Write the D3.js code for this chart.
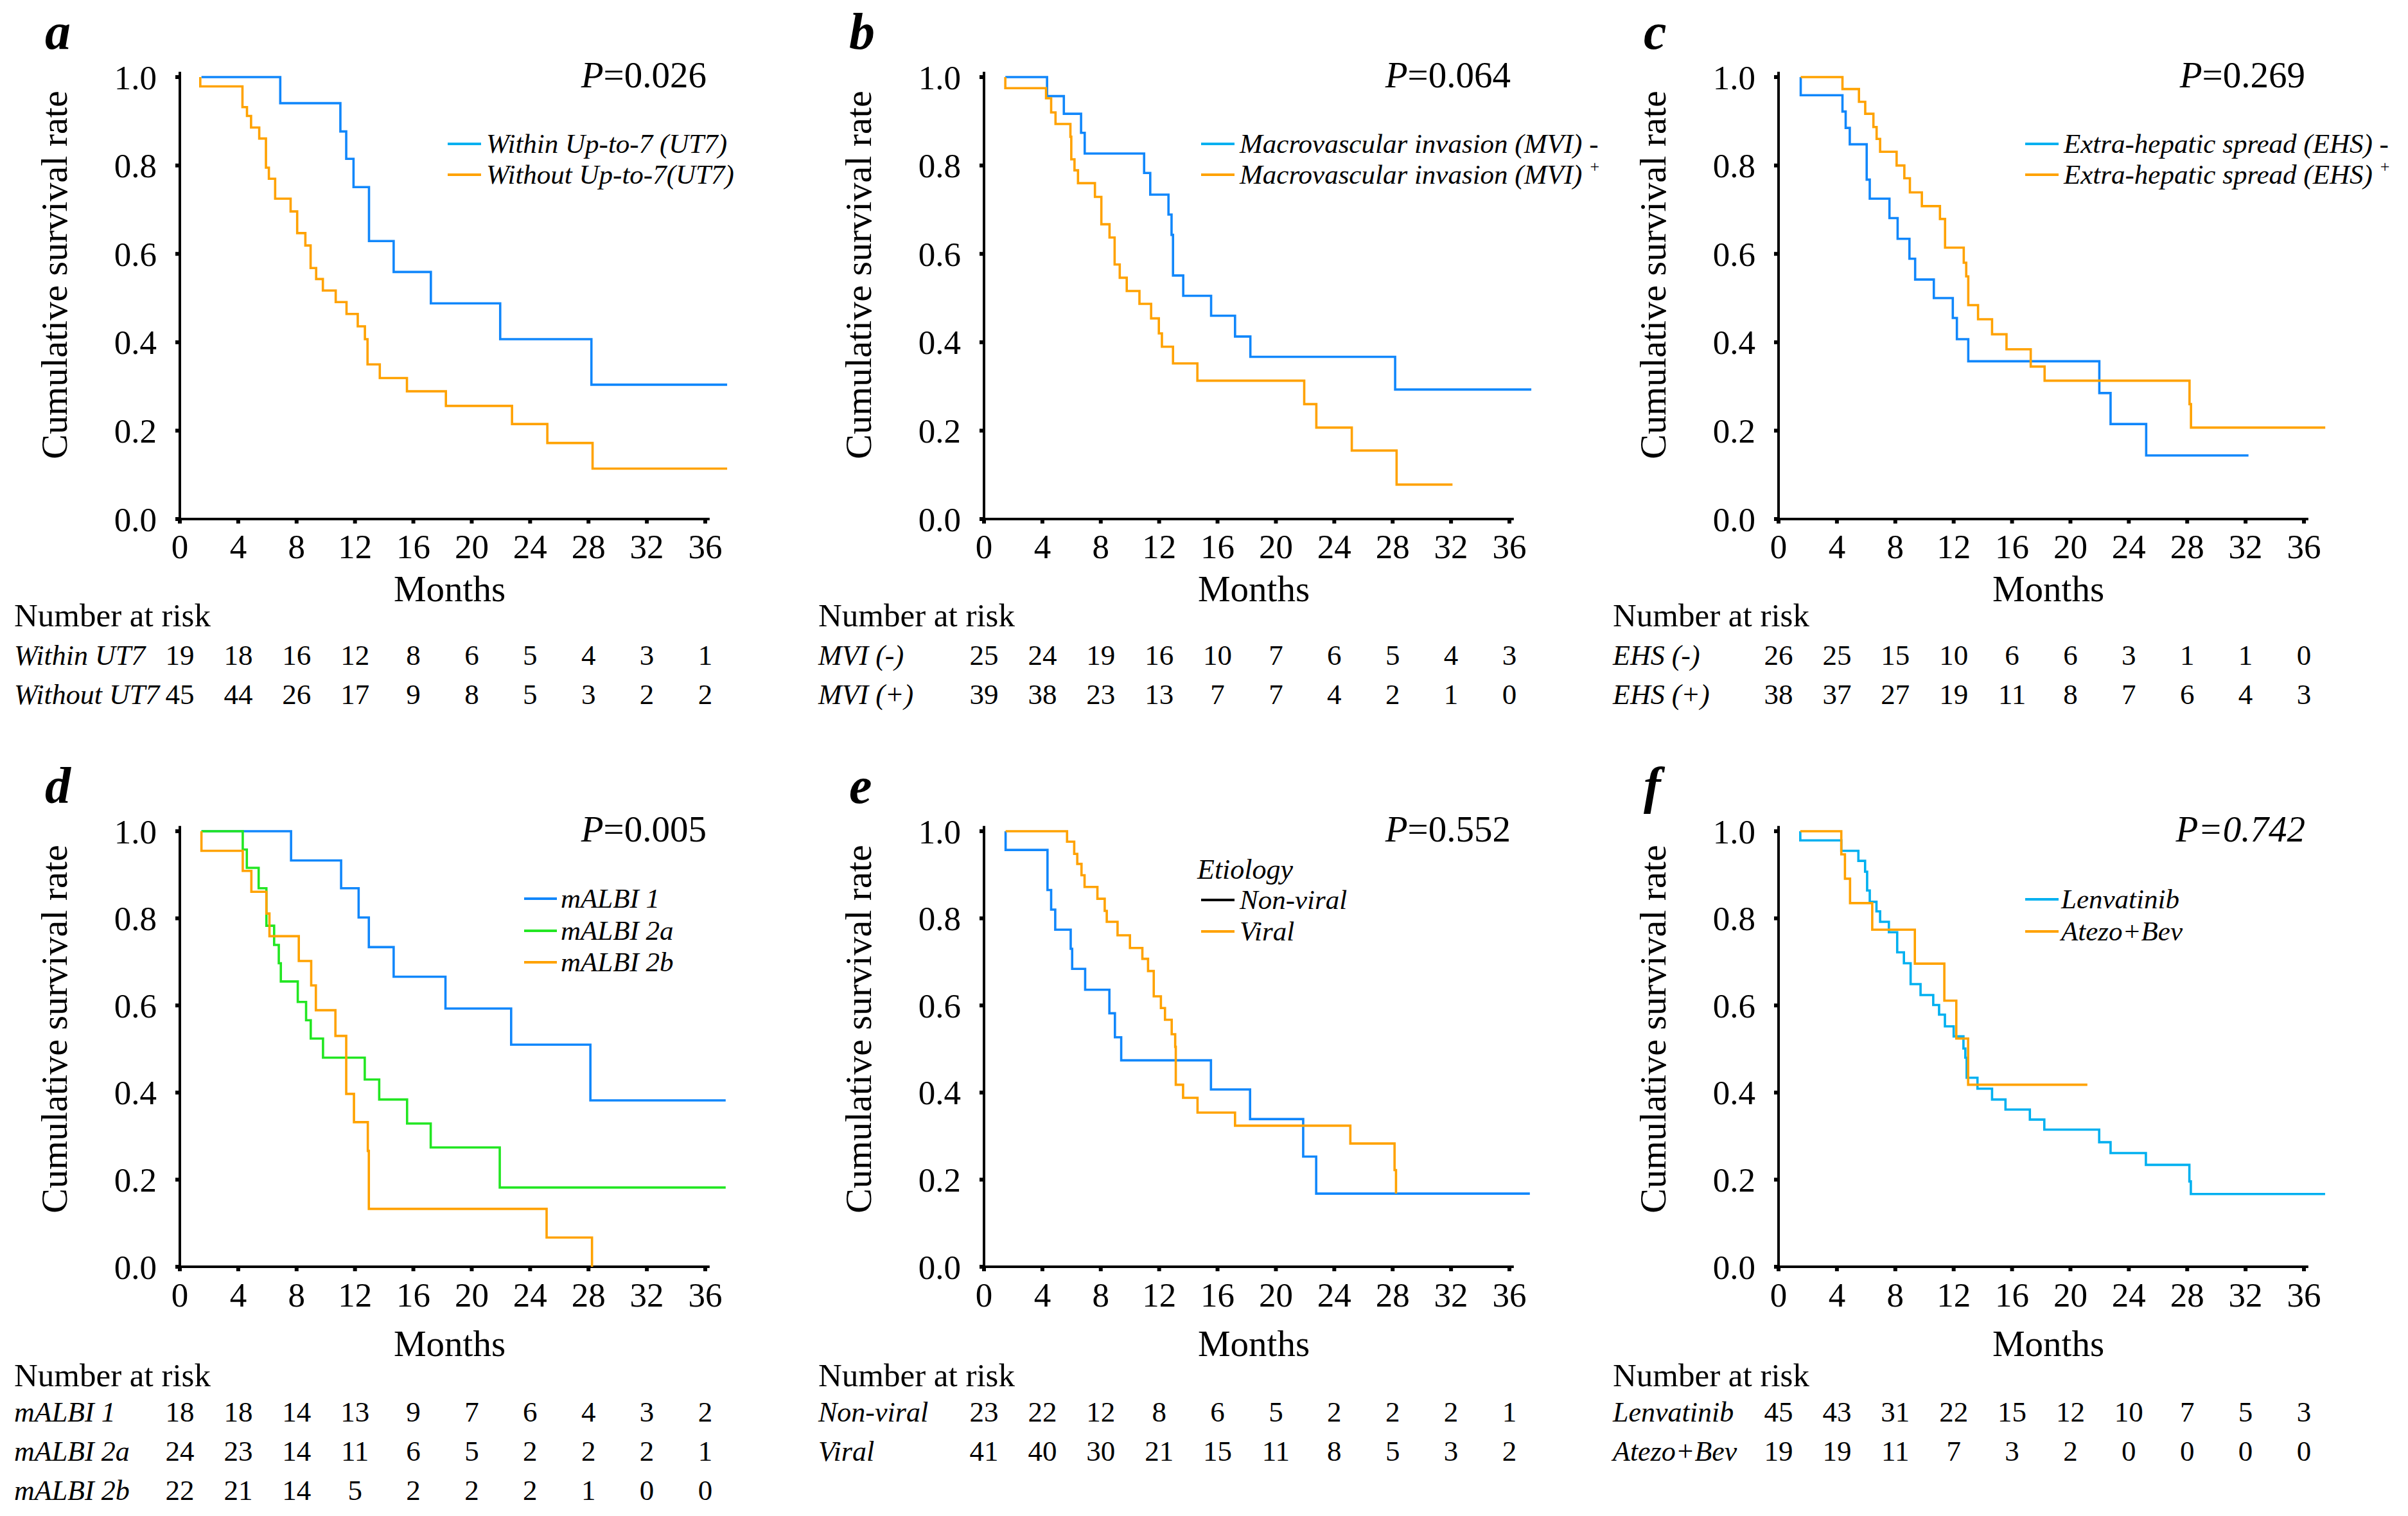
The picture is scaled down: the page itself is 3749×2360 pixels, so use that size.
<!DOCTYPE html>
<html><head><meta charset="utf-8">
<script src="https://cdn.jsdelivr.net/npm/d3@7/dist/d3.min.js"></script>
<style>
body{margin:0;background:#fff}
svg{display:block;background:#fff}
text{font-family:"Liberation Serif","Times New Roman",serif;fill:#000}
</style>
</head><body>
<svg id="chart" width="3749" height="2360"></svg>
<script>
// ---------- axis ticks ----------
const monthTicks = [0, 4, 8, 12, 16, 20, 24, 28, 32, 36];
const survTicks = [0, 0.2, 0.4, 0.6, 0.8, 1.0];
const survTickLabels = ["0.0", "0.2", "0.4", "0.6", "0.8", "1.0"];

// ---------- survival curves: [month, survival] ----------
// a: Up-to-7
const utWithin = [[1.48,1],[6.88,0.941],[11.0,0.877],[11.4,0.815],[11.9,0.751],[12.96,0.629],[14.65,0.559],[17.2,0.488],[21.95,0.407],[28.2,0.304],[37.5,0.304]];
const utWithout = [[1.4,1],[1.4,0.979],[4.29,0.932],[4.6,0.912],[4.88,0.886],[5.44,0.861],[5.9,0.795],[6.1,0.770],[6.53,0.725],[7.59,0.696],[8.04,0.647],[8.6,0.619],[8.96,0.568],[9.34,0.543],[9.8,0.517],[10.68,0.491],[11.42,0.464],[12.19,0.436],[12.68,0.407],[12.86,0.350],[13.7,0.319],[15.56,0.289],[18.23,0.256],[22.76,0.215],[25.18,0.172],[28.28,0.114],[37.5,0.114]];
// b: MVI
const mviNeg = [[1.46,1],[4.32,0.957],[5.47,0.917],[6.65,0.874],[6.9,0.827],[10.97,0.783],[11.39,0.734],[12.64,0.689],[12.85,0.643],[12.95,0.551],[13.65,0.505],[15.56,0.460],[17.2,0.413],[18.25,0.367],[28.17,0.293],[37.5,0.293]];
const mviPos = [[1.46,1],[1.46,0.975],[4.25,0.952],[4.6,0.920],[4.9,0.894],[5.92,0.865],[5.98,0.814],[6.2,0.789],[6.44,0.760],[7.6,0.729],[8.04,0.667],[8.6,0.637],[8.95,0.576],[9.3,0.546],[9.78,0.516],[10.65,0.487],[11.45,0.454],[11.98,0.420],[12.19,0.390],[12.95,0.352],[14.62,0.313],[21.94,0.260],[22.77,0.207],[25.2,0.155],[28.27,0.078],[32.1,0.078]];
// c: EHS
const ehsNeg = [[1.52,1],[1.52,0.959],[4.38,0.922],[4.6,0.885],[4.88,0.848],[6.04,0.768],[6.25,0.725],[7.6,0.681],[8.16,0.634],[8.97,0.589],[9.36,0.542],[10.64,0.500],[11.94,0.455],[12.22,0.407],[13.0,0.357],[21.98,0.285],[22.75,0.215],[25.19,0.144],[32.2,0.144]];
const ehsPos = [[1.52,1],[4.38,0.973],[5.51,0.944],[5.94,0.917],[6.5,0.887],[6.72,0.860],[6.96,0.831],[8.09,0.800],[8.62,0.771],[9.0,0.739],[9.82,0.708],[11.06,0.679],[11.41,0.614],[12.69,0.580],[12.86,0.549],[13.0,0.484],[13.67,0.452],[14.63,0.418],[15.62,0.384],[17.28,0.345],[18.23,0.313],[28.16,0.260],[28.26,0.207],[37.46,0.207]];
// d: mALBI
const albi1 = [[1.48,1],[7.62,0.933],[11.05,0.869],[12.25,0.802],[12.95,0.734],[14.65,0.666],[18.2,0.593],[22.7,0.510],[28.13,0.382],[37.4,0.382]];
const albi2a = [[1.48,1],[4.31,0.958],[4.59,0.916],[5.4,0.869],[5.93,0.783],[6.46,0.739],[6.78,0.697],[6.92,0.655],[8.08,0.608],[8.65,0.566],[8.97,0.524],[9.81,0.480],[12.67,0.430],[13.66,0.384],[15.57,0.329],[17.19,0.274],[21.92,0.182],[37.4,0.182]];
const albi2b = [[1.48,1],[1.48,0.955],[4.31,0.909],[4.9,0.861],[5.93,0.811],[6.14,0.759],[8.15,0.702],[9.0,0.646],[9.32,0.589],[10.66,0.530],[11.4,0.397],[11.93,0.332],[12.88,0.266],[12.95,0.133],[25.13,0.067],[28.24,0.0]];
// e: Etiology
const nonViral = [[1.48,1],[1.48,0.957],[4.35,0.865],[4.6,0.820],[4.88,0.774],[5.94,0.730],[6.04,0.684],[6.93,0.636],[8.59,0.582],[8.97,0.527],[9.4,0.474],[15.55,0.407],[18.23,0.339],[21.87,0.253],[22.76,0.168],[37.4,0.168]];
const viral = [[1.48,1],[5.69,0.976],[6.18,0.948],[6.39,0.925],[6.68,0.899],[6.89,0.872],[7.77,0.845],[8.27,0.817],[8.41,0.792],[9.15,0.761],[10.0,0.732],[10.85,0.707],[11.24,0.679],[11.63,0.621],[12.12,0.594],[12.4,0.567],[12.86,0.534],[13.1,0.505],[13.14,0.418],[13.64,0.388],[14.63,0.354],[17.2,0.324],[25.1,0.283],[28.13,0.222],[28.23,0.168]];
// f: Treatment
const lenvatinib = [[1.49,1],[1.49,0.979],[4.3,0.955],[5.47,0.932],[5.93,0.907],[6.07,0.864],[6.25,0.838],[6.71,0.816],[6.96,0.792],[7.56,0.768],[8.13,0.722],[8.59,0.697],[9.05,0.649],[9.73,0.624],[10.6,0.601],[11.0,0.579],[11.4,0.552],[12.0,0.529],[12.67,0.501],[12.8,0.480],[12.89,0.434],[13.63,0.409],[14.63,0.384],[15.55,0.361],[17.22,0.338],[18.21,0.315],[21.97,0.286],[22.75,0.261],[25.17,0.234],[28.15,0.196],[28.25,0.167],[37.45,0.167]];
const atezoBev = [[1.49,1],[4.3,0.947],[4.55,0.891],[4.9,0.835],[6.42,0.774],[9.34,0.696],[11.36,0.611],[12.18,0.524],[12.99,0.418],[21.16,0.418]];

// ---------- numbers at risk ----------
const riskWithinUT7 = [19,18,16,12,8,6,5,4,3,1];
const riskWithoutUT7 = [45,44,26,17,9,8,5,3,2,2];
const riskMviNeg = [25,24,19,16,10,7,6,5,4,3];
const riskMviPos = [39,38,23,13,7,7,4,2,1,0];
const riskEhsNeg = [26,25,15,10,6,6,3,1,1,0];
const riskEhsPos = [38,37,27,19,11,8,7,6,4,3];
const riskAlbi1 = [18,18,14,13,9,7,6,4,3,2];
const riskAlbi2a = [24,23,14,11,6,5,2,2,2,1];
const riskAlbi2b = [22,21,14,5,2,2,2,1,0,0];
const riskNonViral = [23,22,12,8,6,5,2,2,2,1];
const riskViral = [41,40,30,21,15,11,8,5,3,2];
const riskLenva = [45,43,31,22,15,12,10,7,5,3];
const riskAtezo = [19,19,11,7,3,2,0,0,0,0];

// ---------- styles ----------
const BLUE = "#1187fb", CYAN = "#00b0f0", ORANGE = "#ffa200", GREEN = "#22e622", BLACK = "#000";

const colX = [280, 1532, 2769];
const rows = [
  {top:120, bottom:808, tickBase:869, monthsBase:936, narBase:975, riskBase:[1035,1096]},
  {top:1294, bottom:1972, tickBase:2034, monthsBase:2111, narBase:2158, riskBase:[2213,2274,2335]}
];
const plotW = 818;

const panels = [
  {letter:"a", col:0, row:0, pItalicAll:false, pval:"=0.026",
   series:[{d:utWithin,c:BLUE,lc:CYAN,label:"Within Up-to-7 (UT7)"},{d:utWithout,c:ORANGE,lc:ORANGE,label:"Without Up-to-7(UT7)"}],
   leg:{x1:417,x2:469,tx:477,ys:[104,152]},
   risk:[{l:"Within UT7",v:riskWithinUT7},{l:"Without UT7",v:riskWithoutUT7}]},
  {letter:"b", col:1, row:0, pItalicAll:false, pval:"=0.064",
   series:[{d:mviNeg,c:BLUE,lc:CYAN,label:"Macrovascular invasion (MVI) -"},{d:mviPos,c:ORANGE,lc:ORANGE,label:"Macrovascular invasion (MVI)",sup:"+"}],
   leg:{x1:338,x2:390,tx:398,ys:[104,152]},
   risk:[{l:"MVI (-)",v:riskMviNeg},{l:"MVI (+)",v:riskMviPos}]},
  {letter:"c", col:2, row:0, pItalicAll:false, pval:"=0.269",
   series:[{d:ehsNeg,c:BLUE,lc:CYAN,label:"Extra-hepatic spread (EHS) -"},{d:ehsPos,c:ORANGE,lc:ORANGE,label:"Extra-hepatic spread (EHS)",sup:"+"}],
   leg:{x1:384,x2:436,tx:444,ys:[104,152]},
   risk:[{l:"EHS (-)",v:riskEhsNeg},{l:"EHS (+)",v:riskEhsPos}]},
  {letter:"d", col:0, row:1, pItalicAll:false, pval:"=0.005",
   series:[{d:albi1,c:BLUE,lc:BLUE,label:"mALBI 1"},{d:albi2a,c:GREEN,lc:GREEN,label:"mALBI 2a"},{d:albi2b,c:ORANGE,lc:ORANGE,label:"mALBI 2b"}],
   leg:{x1:536,x2:587,tx:593,ys:[105,155,204]},
   risk:[{l:"mALBI 1",v:riskAlbi1},{l:"mALBI 2a",v:riskAlbi2a},{l:"mALBI 2b",v:riskAlbi2b}]},
  {letter:"e", col:1, row:1, pItalicAll:false, pval:"=0.552",
   series:[{d:nonViral,c:BLUE,lc:BLACK,label:"Non-viral"},{d:viral,c:ORANGE,lc:ORANGE,label:"Viral"}],
   leg:{x1:338,x2:390,tx:398,ys:[107,156],title:"Etiology",titleX:332,titleY:74},
   risk:[{l:"Non-viral",v:riskNonViral},{l:"Viral",v:riskViral}]},
  {letter:"f", col:2, row:1, pItalicAll:true, pval:"=0.742",
   series:[{d:lenvatinib,c:CYAN,lc:CYAN,label:"Lenvatinib"},{d:atezoBev,c:ORANGE,lc:ORANGE,label:"Atezo+Bev"}],
   leg:{x1:384,x2:436,tx:440,ys:[106,156]},
   risk:[{l:"Lenvatinib",v:riskLenva},{l:"Atezo+Bev",v:riskAtezo}]}
];

const svg = d3.select("#chart");

panels.forEach(p => {
  const R = rows[p.row];
  const ax = colX[p.col];
  const x = d3.scaleLinear().domain([0, 36]).range([ax, ax + plotW]);
  const y = d3.scaleLinear().domain([0, 1]).range([R.bottom, R.top]);
  const g = svg.append("g");

  // panel letter
  g.append("text").attr("x", ax - 210).attr("y", R.top - 44)
    .attr("font-size", 80).attr("font-weight", "bold").attr("font-style", "italic")
    .text(p.letter);

  // axes lines
  g.append("line").attr("x1", ax).attr("x2", ax).attr("y1", y(0)).attr("y2", y(1.012))
    .attr("stroke", "#000").attr("stroke-width", 4);
  g.append("line").attr("x1", ax - 2).attr("x2", x(36.3)).attr("y1", y(0)).attr("y2", y(0))
    .attr("stroke", "#000").attr("stroke-width", 4);

  // y ticks
  g.selectAll(".yt").data(survTicks).enter().append("line")
    .attr("x1", ax - 7).attr("x2", ax).attr("y1", d => y(d)).attr("y2", d => y(d))
    .attr("stroke", "#000").attr("stroke-width", 6);
  g.selectAll(".yl").data(survTicks).enter().append("text")
    .attr("x", ax - 36).attr("y", d => y(d)).attr("dy", "0.35em")
    .attr("text-anchor", "end").attr("font-size", 53)
    .text((d, i) => survTickLabels[i]);

  // x ticks
  g.selectAll(".xt").data(monthTicks).enter().append("line")
    .attr("x1", d => x(d)).attr("x2", d => x(d)).attr("y1", y(0)).attr("y2", y(0) + 7)
    .attr("stroke", "#000").attr("stroke-width", 6);
  g.selectAll(".xl").data(monthTicks).enter().append("text")
    .attr("x", d => x(d)).attr("y", R.tickBase)
    .attr("text-anchor", "middle").attr("font-size", 53)
    .text(d => d);

  // y label
  g.append("text")
    .attr("transform", `translate(${ax - 196},${R.top + 308}) rotate(-90)`)
    .attr("text-anchor", "middle").attr("dy", "0.35em").attr("font-size", 58)
    .text("Cumulative survival rate");

  // Months
  g.append("text").attr("x", ax + 420).attr("y", R.monthsBase)
    .attr("text-anchor", "middle").attr("font-size", 57).text("Months");

  // P value
  const pt = g.append("text").attr("x", ax + 820).attr("y", R.top + 16)
    .attr("text-anchor", "end").attr("font-size", 57);
  pt.append("tspan").attr("font-style", "italic").text("P");
  pt.append("tspan").attr("font-style", p.pItalicAll ? "italic" : "normal").text(p.pval);

  // curves
  const line = d3.line().x(d => x(d[0])).y(d => y(d[1])).curve(d3.curveStepAfter);
  p.series.forEach(s => {
    g.append("path").attr("d", line(s.d)).attr("fill", "none")
      .attr("stroke", s.c).attr("stroke-width", 3.6);
  });

  // legend
  const L = p.leg;
  if (L.title) {
    g.append("text").attr("x", ax + L.titleX).attr("y", R.top + L.titleY)
      .attr("font-size", 44).attr("font-style", "italic").text(L.title);
  }
  p.series.forEach((s, i) => {
    const ly = R.top + L.ys[i];
    g.append("line").attr("x1", ax + L.x1).attr("x2", ax + L.x2).attr("y1", ly).attr("y2", ly)
      .attr("stroke", s.lc).attr("stroke-width", 4);
    const t = g.append("text").attr("x", ax + L.tx).attr("y", ly + 14)
      .attr("font-size", 43).attr("font-style", "italic");
    t.append("tspan").text(s.label);
    if (s.sup) {
      t.append("tspan").attr("font-size", 26).attr("font-style", "normal")
        .attr("dx", 12).attr("dy", -18).text(s.sup);
    }
  });

  // risk table
  g.append("text").attr("x", ax - 258).attr("y", R.narBase)
    .attr("font-size", 51).text("Number at risk");
  p.risk.forEach((r, i) => {
    const by = R.riskBase[i];
    g.append("text").attr("x", ax - 258).attr("y", by)
      .attr("font-size", 44).attr("font-style", "italic").text(r.l);
    g.selectAll(null).data(r.v).enter().append("text")
      .attr("x", (d, k) => x(monthTicks[k])).attr("y", by)
      .attr("text-anchor", "middle").attr("font-size", 45)
      .text(d => d);
  });
});
</script>
</body></html>
